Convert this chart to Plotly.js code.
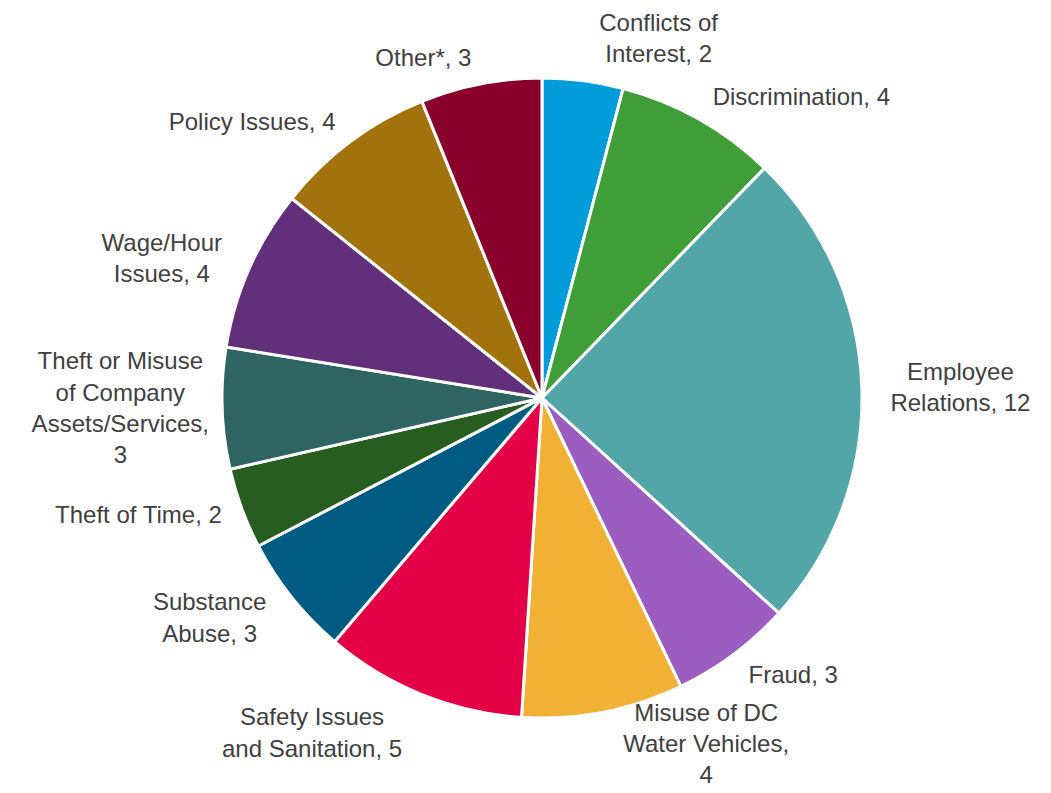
<!DOCTYPE html>
<html>
<head>
<meta charset="utf-8">
<script src="https://cdn.plot.ly/plotly-3.0.1.min.js"></script>
<style>html,body{margin:0;padding:0;background:#fff;}#chart{width:1051px;height:793px;}</style>
</head>
<body>
<div id="chart"></div>
<script>
const categories = [
  "Conflicts of<br>Interest",
  "Discrimination",
  "Employee<br>Relations",
  "Fraud",
  "Misuse of DC<br>Water Vehicles,<br>",
  "Safety Issues<br>and Sanitation",
  "Substance<br>Abuse",
  "Theft of Time",
  "Theft or Misuse<br>of Company<br>Assets/Services,<br>",
  "Wage/Hour<br>Issues",
  "Policy Issues",
  "Other*"
];
const values = [2, 4, 12, 3, 4, 5, 3, 2, 3, 4, 4, 3];
const colors = ["#039CDB", "#3F9E37", "#52A6A8", "#9B5EC0", "#F0B135", "#E30047",
                "#005B82", "#275E1F", "#2E6461", "#622F7A", "#A2720D", "#88002B"];

const texts = categories.map((c, i) => c.endsWith("<br>") ? c + values[i] : c + ", " + values[i]);

const W = 1051, H = 793, CX = 542, CY = 398, R = 320;

function dom(r) {
  return { x: [(CX - r) / W, (CX + r) / W], y: [(H - CY - r) / H, (H - CY + r) / H] };
}

const pie = {
  type: "pie",
  labels: categories,
  values: values,
  textinfo: "none",
  sort: false,
  direction: "clockwise",
  rotation: 0,
  marker: { colors: colors, line: { color: "#ffffff", width: 3 } },
  domain: dom(R),
  showlegend: false,
  hoverinfo: "skip"
};

// label rings: which slices get their label drawn at which ring radius
const labelGroups = [
  { r: 334, show: [0, 1, 2, 3, 5, 6, 7, 9, 10, 11] },
  { r: 308, show: [4] },
  { r: 303, show: [8] }
];

const labelPies = labelGroups.map(g => ({
  type: "pie",
  labels: categories,
  values: values,
  text: texts.map((t, i) => g.show.includes(i) ? t : ""),
  textinfo: "text",
  textposition: "outside",
  sort: false,
  direction: "clockwise",
  rotation: 0,
  marker: { colors: values.map(() => "rgba(0,0,0,0)"), line: { width: 0 } },
  outsidetextfont: { family: "Liberation Sans, Arial, sans-serif", size: 24, color: "#404040" },
  domain: dom(g.r),
  automargin: false,
  showlegend: false,
  hoverinfo: "skip"
}));

Plotly.newPlot("chart", [pie, ...labelPies], {
  width: W, height: H,
  margin: { l: 0, r: 0, t: 0, b: 0 },
  paper_bgcolor: "#ffffff",
  showlegend: false
}, { staticPlot: true });
</script>
</body>
</html>
